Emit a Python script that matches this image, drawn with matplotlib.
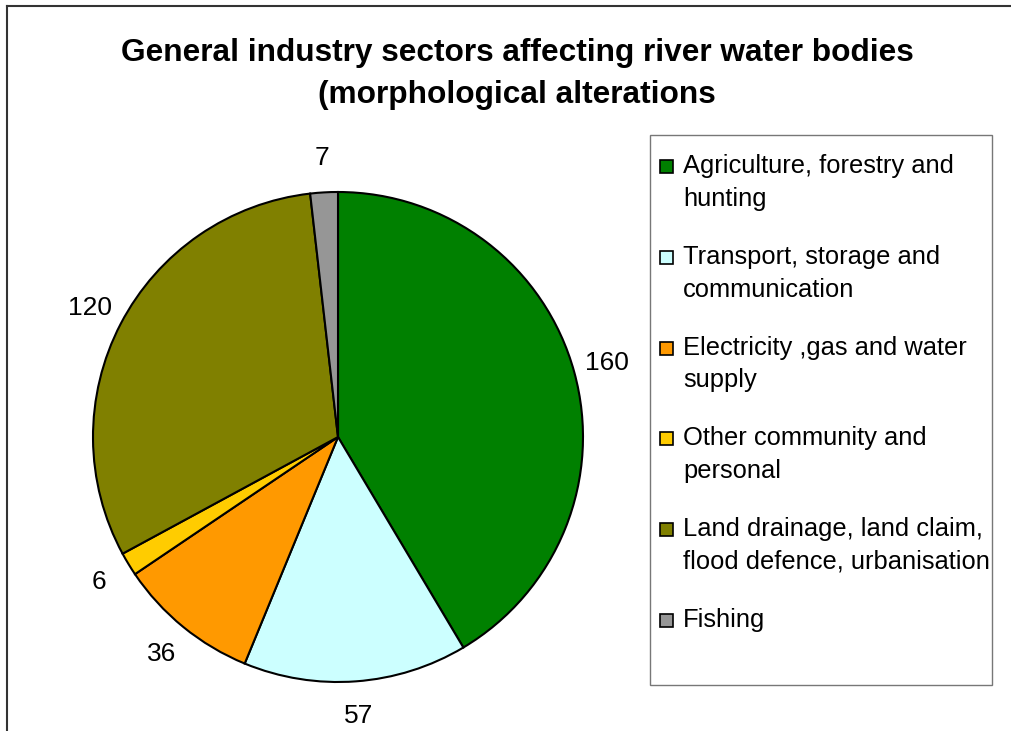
import matplotlib.pyplot as plt
from matplotlib.patches import Rectangle
from matplotlib.lines import Line2D

plt.rcParams['font.family'] = ['Liberation Sans', 'DejaVu Sans']

# data
sectors = ['Agriculture, forestry and\nhunting',
           'Transport, storage and\ncommunication',
           'Electricity ,gas and water\nsupply',
           'Other community and\npersonal',
           'Land drainage, land claim,\nflood defence, urbanisation',
           'Fishing']
values = [160, 57, 36, 6, 120, 7]
colors = ['#008000', '#CCFFFF', '#FF9900', '#FFCC00', '#808000', '#969696']

W, H = 1012, 731


def fx(x):
    return x / W


def fy(y):
    return 1 - y / H


fig = plt.figure(figsize=(W / 100, H / 100), dpi=100)

# pie axes, centre (338, 437) px, radius 245 px
cx, cy, r = 338, 437, 245
ax = fig.add_axes([fx(cx - r), fy(cy + r), 2 * r / W, 2 * r / H])
total = sum(values)
wedges, texts, autotexts = ax.pie(
    values, colors=colors, startangle=90, counterclock=False,
    autopct=lambda p: '%d' % round(p * total / 100), pctdistance=1.14,
    wedgeprops=dict(edgecolor='black', linewidth=1.5),
    textprops=dict(fontsize=19, color='black'))
ax.set_xlim(-1, 1)
ax.set_ylim(-1, 1)
ax.set_axis_off()

# title
fig.text(fx(517), fy(38), 'General industry sectors affecting river water bodies\n(morphological alterations',
         ha='center', va='top', fontsize=22.8, fontweight='bold', linespacing=1.52)

# outer frame (only left and top edges visible)
fig.add_artist(Line2D([fx(7), fx(7)], [fy(731), fy(6)], color='#333333', linewidth=1.5))
fig.add_artist(Line2D([fx(7), fx(1012)], [fy(6), fy(6)], color='#333333', linewidth=1.5))

# legend box
fig.add_artist(Rectangle((fx(650), fy(685)), (992 - 650) / W, (685 - 135) / H,
                         transform=fig.transFigure, facecolor='white',
                         edgecolor='#777777', linewidth=1))
for i, (lab, col) in enumerate(zip(sectors, colors)):
    yb = 173 + i * 90.8
    fig.add_artist(Rectangle((fx(660), fy(yb)), 13 / W, 13 / H,
                             transform=fig.transFigure, facecolor=col,
                             edgecolor='black', linewidth=1.2))
    fig.text(fx(683), fy(yb - 19), lab, ha='left', va='top', fontsize=18.4, linespacing=1.46)

plt.savefig('out.png', dpi=100)
